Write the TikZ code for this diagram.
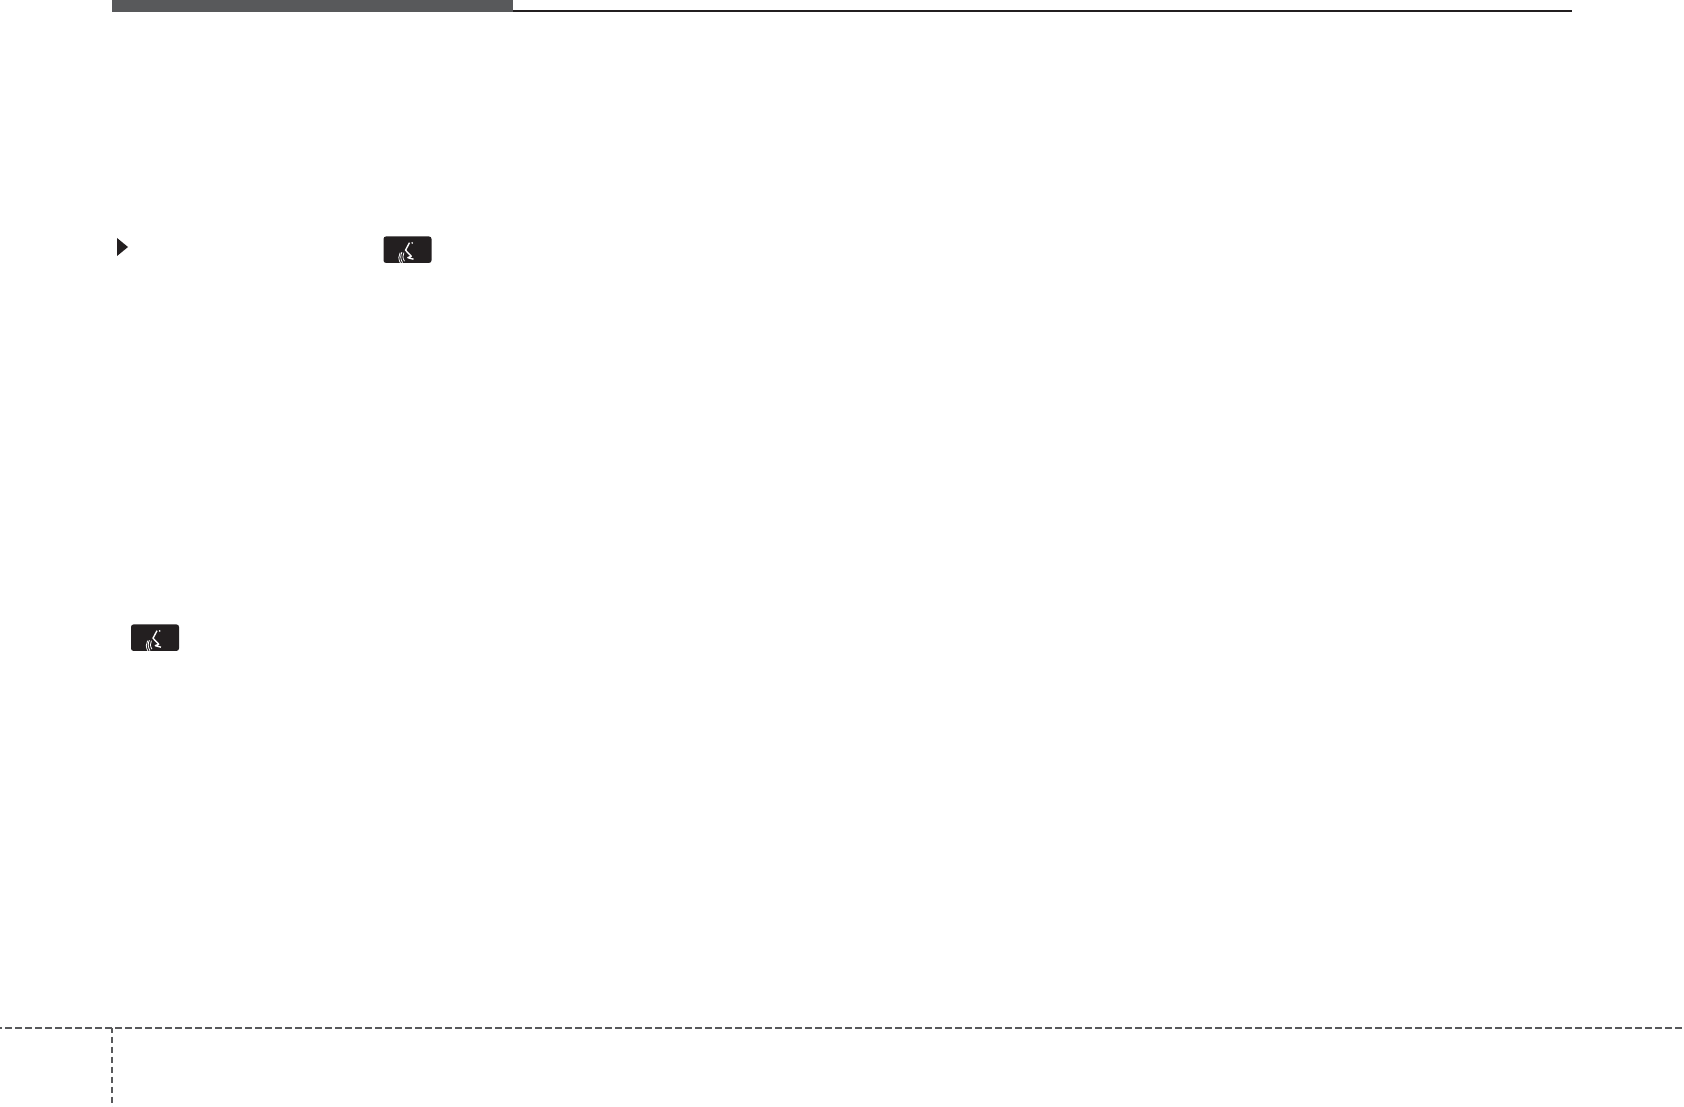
\documentclass[tikz,border=0pt]{standalone}
\definecolor{bardark}{HTML}{58595B}
\definecolor{inkdark}{HTML}{231F20}
\tikzset{
  keybox/.style={fill=inkdark,rounded corners=2.5pt,minimum width=48pt,minimum height=26.5pt,inner sep=0pt},
  cutline/.style={draw=bardark,line width=2.4pt,dash pattern=on 6.5pt off 3.5pt},
  voiceicon/.pic={
    \draw[white,line width=1.4pt,line join=round] (2,-7) -- (-2,0.5) -- (3.7,6.5) -- (0.3,8) -- (6,9.5);
    \fill[white] (4.7,-6.8) circle (0.9);
    \draw[white,line width=0.8pt] (-3.6,3) .. controls (-5,5.5) and (-5,8.5) .. (-3,11.5);
    \draw[white,line width=0.8pt] (-5.6,2.5) .. controls (-7.2,5.5) and (-7.2,9.5) .. (-5,13);
    \draw[white,line width=0.8pt] (-7.4,3) .. controls (-9.2,6) and (-9.2,9.5) .. (-7,13.5);
  }
}
\begin{document}
\begin{tikzpicture}[x=1pt,y=-1pt]
\useasboundingbox (0,0) rectangle (1684,1107);
\coordinate (B1) at (112,0);
\coordinate (B2) at (513,12);
\coordinate (R1) at (513,11);
\coordinate (R2) at (1572,11);
\coordinate (C1) at (0,1028);
\coordinate (C2) at (1684,1028);
\coordinate (C3) at (112,1028);
\coordinate (C4) at (112,1107);
\fill[bardark] (B1) rectangle (B2);
\draw[inkdark,line width=2pt] (R1) -- (R2);
\fill[inkdark] (117,238) -- (128,247) -- (117,256) -- cycle;
\node[keybox] (K1) at (407.5,249.7) {};
\node[keybox] (K2) at (155,637.7) {};
\pic at (K1) {voiceicon};
\pic at (K2) {voiceicon};
\draw[cutline,dash phase=5pt] (C1) -- (C2);
\draw[cutline,dash phase=1.5pt] (C3) -- (C4);
\end{tikzpicture}
\end{document}
